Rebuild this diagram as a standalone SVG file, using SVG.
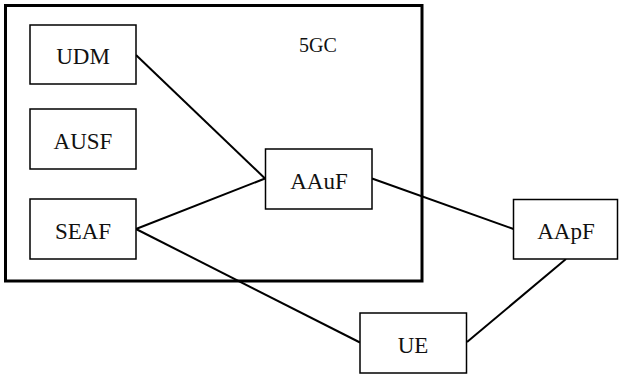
<svg xmlns="http://www.w3.org/2000/svg" width="619" height="376" viewBox="0 0 619 376">
  <style>
    .box { fill: #ffffff; stroke: #000000; stroke-width: 1.5; }
    .frame { fill: none; stroke: #000000; stroke-width: 3; }
    .lbl { font-family: "Liberation Serif", "Times New Roman", serif; font-size: 23px; fill: #111111; text-anchor: middle; }
    .link { stroke: #000000; stroke-width: 2; fill: none; }
  </style>
  <rect width="619" height="376" fill="#ffffff"/>

  <!-- 5GC domain -->
  <g id="core">
    <rect class="frame" x="5.5" y="5.5" width="416.5" height="275.5"/>
    <text class="lbl" x="318" y="52" style="font-size:20px">5GC</text>
  </g>

  <!-- connectors -->
  <g id="links">
    <line class="link" x1="136" y1="55" x2="265" y2="178.5"/>
    <line class="link" x1="136" y1="229" x2="265" y2="178.5"/>
    <line class="link" x1="136" y1="229" x2="360" y2="342.5"/>
    <line class="link" x1="372" y1="178.5" x2="513.5" y2="229"/>
    <line class="link" x1="566" y1="259" x2="467" y2="342"/>
  </g>

  <g id="udm">
    <rect class="box" x="30" y="25" width="106" height="59"/>
    <text class="lbl" x="83" y="64">UDM</text>
  </g>
  <g id="ausf">
    <rect class="box" x="30" y="109" width="106" height="60"/>
    <text class="lbl" x="83" y="149">AUSF</text>
  </g>
  <g id="seaf">
    <rect class="box" x="30" y="199" width="106" height="60"/>
    <text class="lbl" x="83" y="239">SEAF</text>
  </g>
  <g id="aauf">
    <rect class="box" x="265.5" y="149" width="106.5" height="60"/>
    <text class="lbl" x="319" y="188.5">AAuF</text>
  </g>
  <g id="aapf">
    <rect class="box" x="513.5" y="199.5" width="104" height="59.5"/>
    <text class="lbl" x="566" y="239">AApF</text>
  </g>
  <g id="ue">
    <rect class="box" x="360" y="313" width="106.5" height="60"/>
    <text class="lbl" x="413" y="352.5">UE</text>
  </g>
</svg>
